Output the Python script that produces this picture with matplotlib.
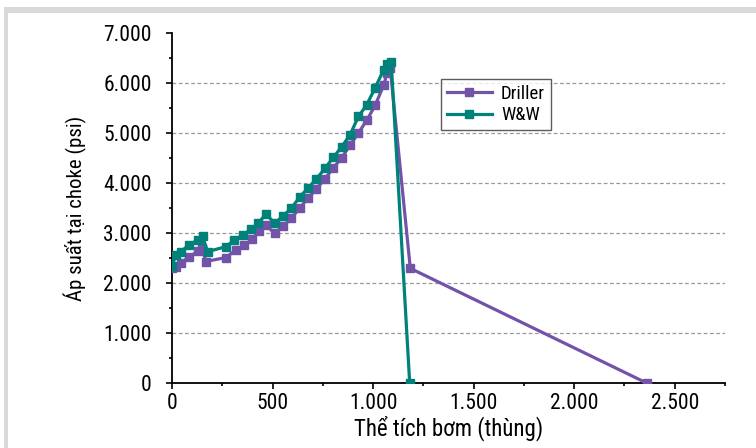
import matplotlib
matplotlib.use("Agg")
import matplotlib.pyplot as plt
from matplotlib.ticker import MultipleLocator, FuncFormatter
from matplotlib.patches import Rectangle

plt.rcParams['font.family'] = ['Roboto Condensed', 'DejaVu Sans']

# Data
driller_x = [0, 20, 43, 85, 127, 150, 168, 268, 318, 360, 398, 432, 468, 510, 552, 593,
             635, 677, 718, 760, 802, 843, 885, 927, 968, 1010, 1052, 1070, 1085, 1185, 2360]
driller_y = [2300, 2320, 2400, 2520, 2630, 2700, 2430, 2510, 2660, 2760, 2870, 3030, 3160, 2990, 3140, 3290,
             3500, 3700, 3880, 4080, 4300, 4500, 4750, 5000, 5250, 5550, 5950, 6200, 6300, 2293, 0]
ww_x = [0, 20, 43, 85, 127, 152, 177, 268, 310, 352, 393, 427, 468, 510, 552, 593,
        635, 677, 718, 760, 802, 843, 885, 927, 968, 1010, 1052, 1070, 1090, 1182]
ww_y = [2350, 2560, 2627, 2760, 2860, 2930, 2627, 2727, 2860, 2960, 3073, 3193, 3380, 3193, 3340, 3493,
        3720, 3900, 4080, 4290, 4510, 4720, 4960, 5330, 5560, 5900, 6260, 6380, 6420, 0]

x_label = "Thể tích bơm (thùng)"
y_label = "Áp suất tại choke (psi)"

purple = "#7253a8"
teal = "#00817a"

fig = plt.figure(figsize=(7.56, 4.48), dpi=100)
fig.patch.set_facecolor("white")
# light gray frame (top and left)
fig.patches.append(Rectangle((4/756, 1 - 13/448), 1 - 4/756, 6/448, transform=fig.transFigure,
                             facecolor="#d9d9d9", edgecolor="none", zorder=0))
fig.patches.append(Rectangle((4/756, 0), 4/756, 1 - 7/448, transform=fig.transFigure,
                             facecolor="#d9d9d9", edgecolor="none", zorder=0))

ax = fig.add_axes([172/756, 1 - 383/448, (725 - 172)/756, (383 - 33)/448])
ax.set_facecolor("white")

ax.plot(driller_x, driller_y, color=purple, lw=2.3, marker='s', ms=5.8, label="Driller", zorder=3)
ax.plot(ww_x, ww_y, color=teal, lw=2.3, marker='s', ms=5.8, label="W&W", zorder=4)

ax.set_xlim(0, 2750)
ax.set_ylim(0, 7000)
ax.xaxis.set_major_locator(MultipleLocator(500))
ax.xaxis.set_minor_locator(MultipleLocator(250))
ax.yaxis.set_major_locator(MultipleLocator(1000))
ax.yaxis.set_minor_locator(MultipleLocator(500))
fmt = FuncFormatter(lambda v, p: f"{v:,.0f}".replace(",", "."))
ax.xaxis.set_major_formatter(fmt)
ax.yaxis.set_major_formatter(fmt)

for s in ["top", "right"]:
    ax.spines[s].set_visible(False)
for s in ["left", "bottom"]:
    ax.spines[s].set_linewidth(1.3)
    ax.spines[s].set_color("black")

ax.tick_params(which="major", direction="out", length=4.5, width=1.2, labelsize=15.5)
ax.tick_params(which="minor", direction="out", length=2.5, width=1.2)
ax.tick_params(axis="y", which="major", pad=10)
ax.tick_params(axis="x", which="major", pad=3)

for yv in range(1000, 7000, 1000):
    ax.axhline(yv, color="#999999", lw=0.9, ls=(0, (3, 2)), zorder=1)

ax.set_xlabel(x_label, fontsize=16.5, labelpad=1)
ax.set_ylabel(y_label, fontsize=15, labelpad=12)

leg = ax.legend(loc="upper left", bbox_to_anchor=((441 - 172)/553, (383 - 79)/350),
                frameon=True, fancybox=False, edgecolor="#333333", fontsize=13.5,
                handlelength=2.4, borderpad=0.3, labelspacing=0.2, handletextpad=0.5,
                markerscale=1.0, numpoints=1, borderaxespad=0)
leg.get_frame().set_linewidth(1.0)

fig.savefig("out.png", dpi=100, facecolor="white")
